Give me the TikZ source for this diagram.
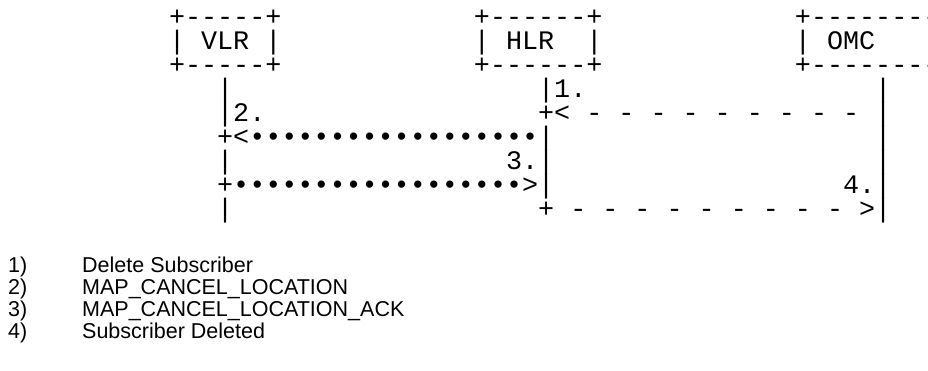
\documentclass[tikz,border=0pt]{standalone}
\usepackage{fontspec}
\setmainfont{Liberation Sans}
\setmonofont{Liberation Mono}
\newcommand\ascnode[4]{\node[asc] (#1) at ({216.975+16.05*(#2)},{#3}) {#4};}
\begin{document}
\begin{tikzpicture}[x=1pt,y=-1pt,
  asc/.style={anchor=base west, inner sep=0pt, font=\ttfamily\fontsize{26.75}{24}\selectfont},
  leg/.style={anchor=base west, inner sep=0pt, font=\fontsize{21.5}{24}\selectfont}]
\useasboundingbox (0,0) rectangle (928,371);
% boxes
\ascnode{vlrtop}{-3}{26}{+-----+}
\ascnode{vlrmid}{-3}{50}{|~VLR~|}
\ascnode{vlrbot}{-3}{74}{+-----+}
\ascnode{hlrtop}{16}{26}{+------+}
\ascnode{hlrmid}{16}{50}{|~HLR~~|}
\ascnode{hlrbot}{16}{74}{+------+}
\ascnode{omctop}{36}{26}{+---------}
\ascnode{omcmid}{36}{50}{|~OMC}
\ascnode{omcbot}{36}{74}{+---------}
% row D
\ascnode{vD}{0}{98}{|}
\ascnode{hD}{20}{98}{|1.}
\ascnode{oD}{41}{98}{|}
% row E
\ascnode{vE}{0}{122}{|2.}
\ascnode{hE}{20}{122}{+<~-~-~-~-~-~-~-~-~-}
\ascnode{oE}{41}{122}{|}
% row F
\ascnode{vF}{0}{146}{+<••••••••••••••••••|}
\ascnode{oF}{41}{146}{|}
% row G
\ascnode{vG}{0}{170}{|}
\ascnode{hG}{18}{170}{3.|}
\ascnode{oG}{41}{170}{|}
% row H
\ascnode{vH}{0}{194}{+••••••••••••••••••>|}
\ascnode{oH}{39}{194}{4.|}
% row I
\ascnode{vI}{0}{218}{|}
\ascnode{hI}{20}{218}{+~-~-~-~-~-~-~-~-~-~>|}
% legend
\node[leg] (n1) at (8,272) {1)};
\node[leg] (t1) at (82,272) {Delete Subscriber};
\node[leg] (n2) at (8,294.3) {2)};
\node[leg] (t2) at (82,294.3) {MAP\_CANCEL\_LOCATION};
\node[leg] (n3) at (8,316.6) {3)};
\node[leg] (t3) at (82,316.6) {MAP\_CANCEL\_LOCATION\_ACK};
\node[leg] (n4) at (8,338.9) {4)};
\node[leg] (t4) at (82,338.9) {Subscriber Deleted};
\end{tikzpicture}
\end{document}
